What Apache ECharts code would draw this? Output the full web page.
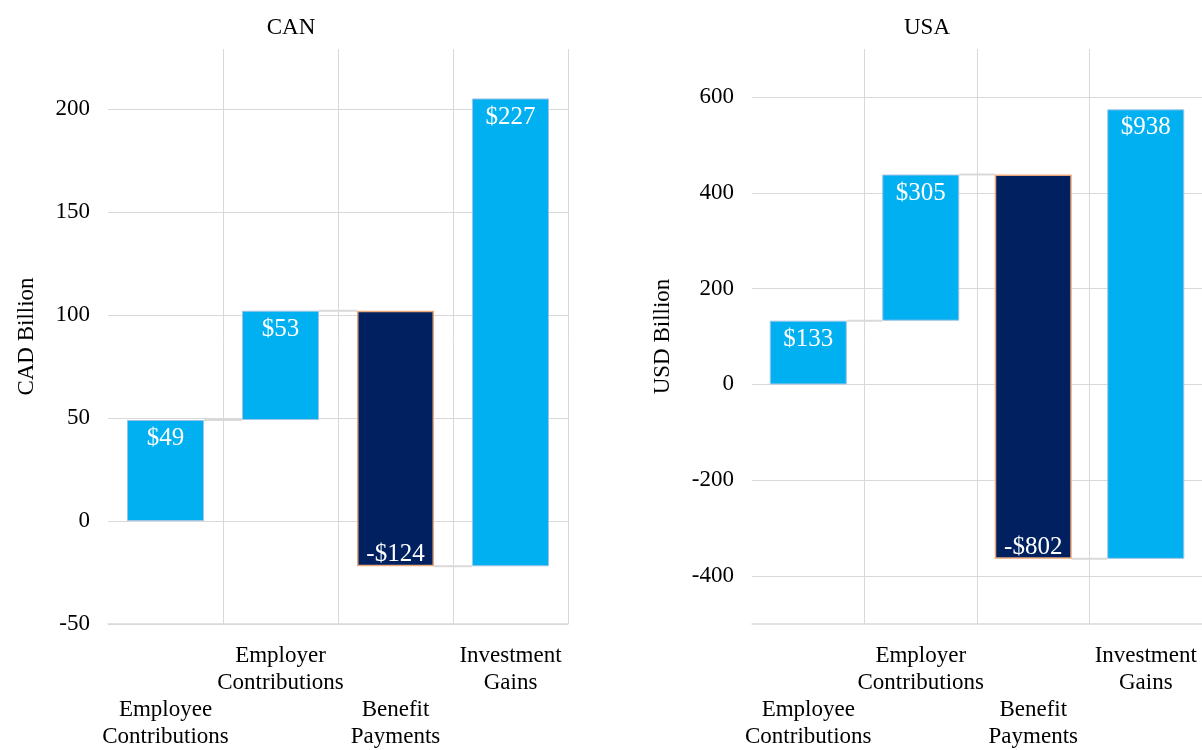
<!DOCTYPE html>
<html><head><meta charset="utf-8">
<script src="https://cdn.jsdelivr.net/npm/echarts@6/dist/echarts.min.js"></script>
<style>html,body{margin:0;padding:0;background:#fff}#c{width:1202px;height:750px}</style>
</head><body><div id="c"></div>
<script>
const categories = ['Employee\nContributions', 'Employer\nContributions', 'Benefit\nPayments', 'Investment\nGains'];
const canValues = [49, 53, -124, 227];
const usaValues = [133, 305, -802, 938];
const panelTitles = ['CAN', 'USA'];
const axisNames = ['CAD Billion', 'USD Billion'];
const canTickLabels = [-50, 0, 50, 100, 150, 200];
const usaTickLabels = [-400, -200, 0, 200, 400, 600];

const FONT = '"Liberation Serif", "Times New Roman", serif';
const LIGHT = '#00B0F0', DARK = '#002060', GRID = '#d9d9d9';
const BAR_W = 77;

function waterfall(values) {
  let run = 0;
  const base = [], vis = [], conn = [];
  values.forEach((v, i) => {
    const next = run + v;
    base.push(Math.min(run, next));
    vis.push({
      value: Math.abs(v),
      itemStyle: v >= 0 ? { color: LIGHT, borderColor: '#9dc3e6', borderWidth: 1 } : { color: DARK, borderColor: '#eaa77a', borderWidth: 1.5 },
      label: v >= 0 ? { position: 'insideTop', distance: 6 } : { position: 'insideBottom', distance: -1 }
    });
    if (i < values.length - 1) conn.push([i, next]);
    run = next;
  });
  return { base, vis, conn };
}

const panels = [
  { values: canValues, ticks: canTickLabels, min: -50, max: 229, step: 10, period: 5,
    grid: { left: 108, right: 634, top: 49, bottom: 123 }, nameGap: 70, titleX: 286 },
  { values: usaValues, ticks: usaTickLabels, min: -500, max: 700, step: 100, period: 2,
    grid: { left: 752, right: -1, top: 49, bottom: 120 }, nameGap: 78, titleX: 922 }
];

const option = { animation: false, textStyle: { fontFamily: FONT }, title: [], grid: [], xAxis: [], yAxis: [], series: [] };

panels.forEach((p, k) => {
  const w = waterfall(p.values);
  option.title.push({ text: panelTitles[k], left: p.titleX, top: 11, textAlign: 'center',
    textStyle: { fontFamily: FONT, fontSize: 23, fontWeight: 'normal', color: '#000' } });
  option.grid.push(p.grid);
  const colors = [];
  for (let i = 0; i < p.period; i++) colors.push('transparent');
  const firstLabelIdx = ((p.ticks[0] - p.min) / p.step) % p.period;
  colors[firstLabelIdx] = GRID;
  option.xAxis.push({
    type: 'category', gridIndex: k, data: categories,
    axisTick: { show: false },
    axisLine: { show: true, onZero: false, lineStyle: { color: GRID, width: 1.5 } },
    splitLine: { show: true, showMinLine: false, interval: 0, lineStyle: { color: GRID, width: 1 } },
    axisLabel: { interval: 0, margin: 18, fontSize: 23, lineHeight: 27, color: '#000', fontFamily: FONT,
      formatter: (v, i) => (i % 2 === 0 ? '\n\n' : '') + v }
  });
  option.yAxis.push({
    type: 'value', gridIndex: k, min: p.min, max: p.max, interval: p.step,
    name: axisNames[k], nameLocation: 'middle', nameRotate: 90, nameGap: p.nameGap,
    nameTextStyle: { fontSize: 23, color: '#000', fontFamily: FONT },
    axisLine: { show: false }, axisTick: { show: false },
    axisLabel: { margin: 18, fontSize: 23, color: '#000', fontFamily: FONT,
      formatter: v => (p.ticks.indexOf(v) >= 0 ? String(v) : '') },
    splitLine: { show: true, showMaxLine: false, lineStyle: { color: colors, width: 1 } }
  });
  option.series.push({
    type: 'custom', xAxisIndex: k, yAxisIndex: k, z: 1, data: w.conn, encode: { x: 0, y: 1 },
    renderItem: (params, api) => {
      const i = api.value(0), lvl = api.value(1);
      const a = api.coord([i, lvl]), b = api.coord([i + 1, lvl]);
      return { type: 'line', shape: { x1: a[0] + BAR_W / 2, y1: a[1], x2: b[0] - BAR_W / 2, y2: a[1] },
        style: { stroke: GRID, lineWidth: 2 } };
    }
  });
  option.series.push({
    type: 'bar', xAxisIndex: k, yAxisIndex: k, stack: 'wf' + k, stackStrategy: 'all', barWidth: BAR_W,
    data: w.base, itemStyle: { color: 'transparent' }, silent: true, z: 2
  });
  option.series.push({
    type: 'bar', xAxisIndex: k, yAxisIndex: k, stack: 'wf' + k, stackStrategy: 'all', barWidth: BAR_W,
    data: w.vis, z: 3,
    label: { show: true, color: '#fff', fontSize: 25, fontFamily: FONT,
      formatter: prm => { const v = p.values[prm.dataIndex]; return (v < 0 ? '-$' : '$') + Math.abs(v); } }
  });
});

const chart = echarts.init(document.getElementById('c'), null, { renderer: 'canvas' });
chart.setOption(option);
</script>
</body></html>
